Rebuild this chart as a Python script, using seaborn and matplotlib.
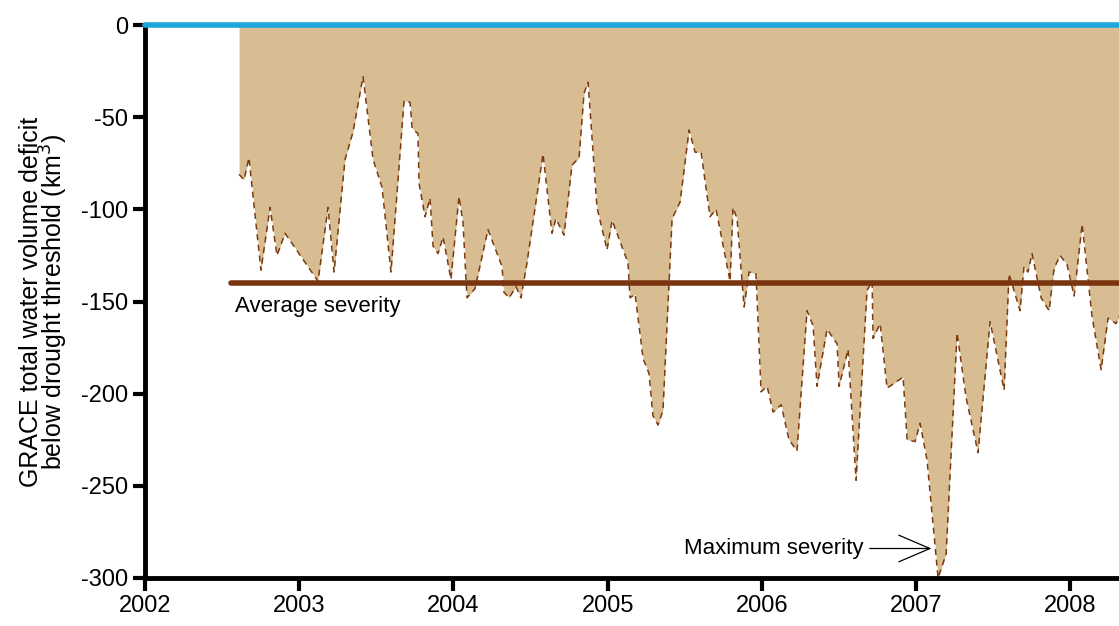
import numpy as np
import pandas as pd
import seaborn as sns
import matplotlib.pyplot as plt

years = [2002.610, 2002.642, 2002.674, 2002.752, 2002.811, 2002.856, 2002.908, 2003.122, 2003.187, 2003.226,
         2003.297, 2003.349, 2003.414, 2003.479, 2003.537, 2003.595, 2003.680, 2003.719, 2003.732, 2003.770,
         2003.777, 2003.816, 2003.848, 2003.868, 2003.900, 2003.933, 2003.984, 2004.036, 2004.062, 2004.088,
         2004.140, 2004.224, 2004.315, 2004.328, 2004.361, 2004.406, 2004.438, 2004.477, 2004.581, 2004.639,
         2004.665, 2004.717, 2004.769, 2004.815, 2004.847, 2004.873, 2004.931, 2004.996, 2005.029, 2005.132,
         2005.145, 2005.178, 2005.230, 2005.268, 2005.294, 2005.327, 2005.359, 2005.418, 2005.470, 2005.528,
         2005.567, 2005.606, 2005.664, 2005.703, 2005.794, 2005.813, 2005.839, 2005.885, 2005.917, 2005.962,
         2005.995, 2006.034, 2006.073, 2006.125, 2006.176, 2006.228, 2006.293, 2006.332, 2006.358, 2006.423,
         2006.488, 2006.501, 2006.559, 2006.611, 2006.682, 2006.715, 2006.721, 2006.767, 2006.812, 2006.916,
         2006.942, 2006.994, 2007.026, 2007.071, 2007.143, 2007.195, 2007.266, 2007.324, 2007.402, 2007.480,
         2007.571, 2007.603, 2007.674, 2007.700, 2007.726, 2007.752, 2007.811, 2007.863, 2007.895, 2007.934,
         2007.979, 2008.025, 2008.077, 2008.141, 2008.200, 2008.245, 2008.297, 2008.316]
deficit = [-81, -84, -72, -133, -99, -125, -113, -139, -99, -134,
           -73, -58, -28, -73, -88, -134, -41, -42, -56, -59,
           -86, -104, -94, -120, -124, -115, -138, -93, -107, -148,
           -143, -111, -131, -145, -148, -142, -148, -129, -70, -113,
           -105, -114, -76, -72, -37, -31, -99, -122, -106, -129,
           -148, -146, -181, -189, -212, -217, -209, -105, -96, -57,
           -69, -69, -104, -100, -139, -99, -105, -153, -134, -135,
           -199, -196, -210, -206, -225, -231, -155, -163, -196, -165,
           -173, -196, -176, -247, -144, -139, -170, -162, -197, -191,
           -225, -226, -216, -236, -300, -287, -167, -202, -232, -161,
           -198, -135, -155, -131, -134, -124, -148, -155, -132, -125,
           -130, -147, -108, -158, -187, -159, -162, -158]
avg_severity = -140
year_ticks = [2002, 2003, 2004, 2005, 2006, 2007, 2008]
y_ticks = [0, -50, -100, -150, -200, -250, -300]

df = pd.DataFrame({"year": years, "deficit": deficit})

sns.set_style("ticks")
plt.rcParams["font.family"] = ["Liberation Sans", "DejaVu Sans"]

fig = plt.figure(figsize=(11.19, 6.26), dpi=100)
ax = fig.add_axes([145 / 1119, 1 - 578 / 626, 1 - 145 / 1119, (578 - 25) / 626])

ax.fill_between(df["year"], df["deficit"], 0, color="#d8bd93", lw=0)
sns.lineplot(data=df, x="year", y="deficit", ax=ax, color="#7b3a10", lw=1.1,
             linestyle=(0, (4, 3)), estimator=None, sort=False)
ax.axhline(0, color="#1ba6dc", lw=4, clip_on=False, zorder=5)
ax.plot([2002.56, years[-1]], [avg_severity, avg_severity], color="#7a3510", lw=4,
        solid_capstyle="round", zorder=4)

ax.text(2002.585, -147, "Average severity", fontsize=16, va="top", ha="left", color="black")
ax.annotate("Maximum severity", xy=(2007.1, -284), xytext=(2006.66, -284),
            fontsize=16, ha="right", va="center", color="black",
            arrowprops=dict(arrowstyle="->,head_length=1.4,head_width=0.6", color="black", lw=0.9,
                            shrinkA=2, shrinkB=0))

ax.set_xlim(2002, years[-1])
ax.set_ylim(-300, 0)
ax.set_xticks(year_ticks)
ax.set_yticks(y_ticks)
ax.set_yticklabels([str(v) for v in y_ticks])
ax.tick_params(axis="both", labelsize=17, width=3, length=9, direction="out",
               color="black", labelcolor="black", pad=3)
ax.set_xlabel("")
ax.set_ylabel("GRACE total water volume deficit\nbelow drought threshold (km$^3$)", fontsize=18,
              linespacing=0.8, labelpad=8, color="black")
for s in ["left", "bottom"]:
    ax.spines[s].set_linewidth(3.5)
    ax.spines[s].set_color("black")
ax.spines["top"].set_visible(False)
ax.spines["right"].set_visible(False)

fig.savefig("out.png", dpi=100)
